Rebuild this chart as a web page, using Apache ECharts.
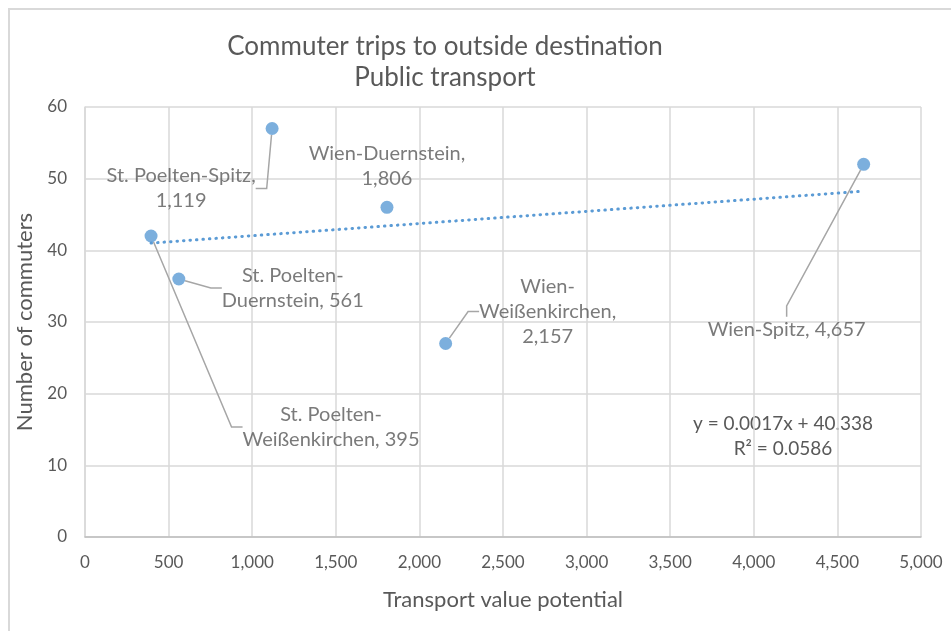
<!DOCTYPE html>
<html>
<head>
<meta charset="utf-8">
<script src="https://cdn.jsdelivr.net/npm/echarts@6/dist/echarts.min.js"></script>
<style>
  html, body { margin: 0; padding: 0; background: #fff; }
  #chart { width: 951px; height: 631px; }
</style>
</head>
<body>
<div id="chart"></div>
<script>
// Route names (line breaks follow the wrapped labels) and their measured values
const routeNames = [
  'St. Poelten-\nWeißenkirchen',
  'St. Poelten-\nDuernstein',
  'St. Poelten-Spitz',
  'Wien-Duernstein',
  'Wien-\nWeißenkirchen',
  'Wien-Spitz'
];
const nameSeparators = [', ', ', ', ',\n', ',\n', ',\n', ', '];
const transportPotential = [395, 561, 1119, 1806, 2157, 4657];
const commuters = [42, 36, 57, 46, 27, 52];

// Linear trend as stated in the equation box
const trendSlope = 0.0017;
const trendIntercept = 40.338;
const trendR2 = 0.0586;

// Axis ranges
const xMin = 0, xMax = 5000, xStep = 500;
const yMin = 0, yMax = 60, yStep = 10;

// Label placement relative to each marker (pixels)
const labelOffsets = [[180, 191], [114, 9], [-91, 60], [0, -41], [102, -32], [-77, 165]];

const TEXT = '#595959';
const FONT = 'Lato, "Noto Sans", sans-serif';
const fmt = v => v.toLocaleString('en-US');

const xFirst = transportPotential[0];
const xLast = transportPotential[transportPotential.length - 1];
const trendData = [
  [xFirst, trendIntercept + trendSlope * xFirst],
  [xLast, trendIntercept + trendSlope * xLast]
];

const scatterData = transportPotential.map((x, i) => {
  const item = { value: [x, commuters[i]], name: routeNames[i] };
  if (i === 3) item.labelLine = { show: false };
  return item;
});

const chart = echarts.init(document.getElementById('chart'));
chart.setOption({
  animation: false,
  textStyle: { fontFamily: FONT, color: TEXT },
  title: {
    text: 'Commuter trips to outside destination\nPublic transport',
    left: 440,
    top: 26,
    textAlign: 'center',
    textStyle: { fontFamily: FONT, fontSize: 26, fontWeight: 'normal', color: TEXT, lineHeight: 31 }
  },
  graphic: [
    {
      type: 'rect',
      silent: true,
      shape: { x: 9, y: 9, width: 1000, height: 700 },
      style: { fill: 'none', stroke: '#d9d9d9', lineWidth: 2 }
    },
    {
      type: 'text',
      silent: true,
      x: 783,
      y: 436,
      style: {
        text: 'y = ' + trendSlope + 'x + ' + trendIntercept + '\nR² = ' + trendR2,
        fontFamily: FONT,
        fontSize: 19,
        lineHeight: 25,
        fill: TEXT,
        align: 'center',
        verticalAlign: 'middle'
      }
    }
  ],
  grid: { left: 85, right: 30, top: 107, bottom: 94, containLabel: false },
  xAxis: {
    type: 'value',
    min: xMin, max: xMax, interval: xStep,
    name: 'Transport value potential',
    nameLocation: 'middle',
    nameGap: 52,
    nameTextStyle: { fontFamily: FONT, fontSize: 22, color: TEXT },
    axisLine: { show: true, lineStyle: { color: '#bfbfbf', width: 1.5 } },
    axisTick: { show: false },
    axisLabel: { margin: 17, fontSize: 17, color: TEXT, fontFamily: FONT, formatter: v => fmt(v) },
    splitLine: { show: true, lineStyle: { color: '#d9d9d9', width: 1.5 } }
  },
  yAxis: {
    type: 'value',
    min: yMin, max: yMax, interval: yStep,
    name: 'Number of commuters',
    nameLocation: 'middle',
    nameGap: 48,
    nameRotate: 90,
    nameTextStyle: { fontFamily: FONT, fontSize: 22, color: TEXT },
    axisLine: { show: true, lineStyle: { color: '#d9d9d9', width: 1.5 } },
    axisTick: { show: false },
    axisLabel: { margin: 18, fontSize: 17, color: TEXT, fontFamily: FONT },
    splitLine: { show: true, lineStyle: { color: '#d9d9d9', width: 1.5 } }
  },
  series: [
    {
      type: 'line',
      data: trendData,
      symbol: 'none',
      silent: true,
      z: 1,
      lineStyle: { color: '#5b9bd5', width: 3, type: [0.5, 6], cap: 'round' }
    },
    {
      type: 'scatter',
      data: scatterData,
      symbol: 'circle',
      symbolSize: 13,
      z: 3,
      itemStyle: { color: '#5b9bd5' },
      label: {
        show: true,
        fontFamily: FONT,
        fontSize: 20,
        lineHeight: 25,
        color: TEXT,
        align: 'center',
        formatter: p => routeNames[p.dataIndex] + nameSeparators[p.dataIndex] + fmt(transportPotential[p.dataIndex])
      },
      labelLine: {
        show: true,
        length2: 11,
        lineStyle: { color: '#a6a6a6', width: 1.5 }
      },
      labelLayout: p => {
        const off = labelOffsets[p.dataIndex];
        const cx = p.rect.x + p.rect.width / 2;
        const cy = p.rect.y + p.rect.height / 2;
        return { x: cx + off[0], y: cy + off[1], align: 'center', verticalAlign: 'middle' };
      }
    }
  ]
});
</script>
</body>
</html>
